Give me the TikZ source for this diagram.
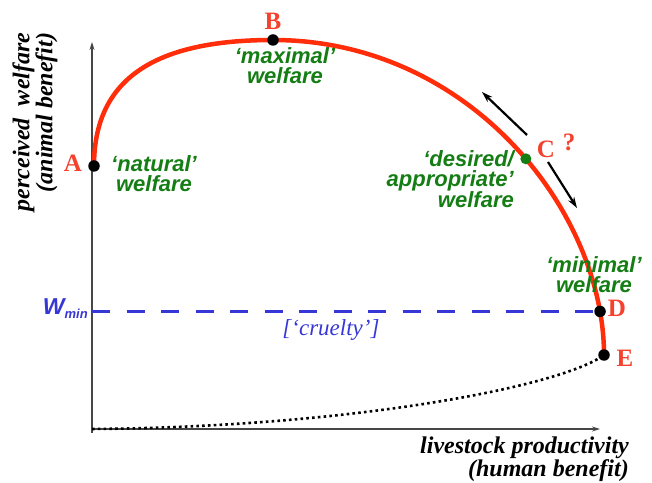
\documentclass[tikz,border=0pt]{standalone}
\usepackage{fontspec}
\setmainfont{Liberation Serif}
\setsansfont{Liberation Sans}
\usetikzlibrary{arrows.meta}

\definecolor{curvered}{RGB}{255,45,10}
\definecolor{letterred}{RGB}{245,65,45}
\definecolor{notegreen}{RGB}{20,125,20}
\definecolor{minblue}{RGB}{55,55,215}
\definecolor{axisgray}{RGB}{70,70,70}

\begin{document}
\begin{tikzpicture}[x=1pt, y=1pt,
        dot/.style={circle, fill, inner sep=0pt, minimum size=11.5pt},
        letter/.style={text=letterred, inner sep=0pt, font=\fontsize{25}{25}\selectfont\bfseries},
        note/.style={text=notegreen, inner sep=0pt, align=center,
            font=\sffamily\bfseries\itshape\fontsize{22}{20}\selectfont},
        axislabel/.style={inner sep=0pt, align=right, font=\bfseries\itshape\fontsize{24}{14}\selectfont},
        axisline/.style={draw=axisgray, line width=1.2pt, -{Stealth[length=8pt, width=5pt]}},
        move/.style={line width=2.2pt, -{Stealth[length=11pt, width=7pt]}}
    ]
    \useasboundingbox (0,0) rectangle (652,482);

    \coordinate (O) at (92,53);
    \coordinate (ytop) at (92,440);
    \coordinate (xend) at (600,53);
    \draw[axisline] ([yshift=-4pt]O) -- (ytop);
    \draw[axisline] (O) -- (xend);

    \coordinate (A) at (94,316);
    \coordinate (B) at (273,442);
    \coordinate (E) at (604,127);

    \draw[line width=2.6pt, dash pattern=on 2.6pt off 3.2pt]
        (O) .. controls (350,55) and (560,95) .. (E);
    \draw[curvered, line width=4.5pt]
        (A) .. controls (94,400) and (150,442) .. (B)
            .. controls (470,442) and (604,270) .. (E)
            coordinate[pos=0.54] (C) coordinate[pos=0.9] (D);
    \coordinate (wend) at (O |- D);
    \draw[minblue, line width=2.6pt, dash pattern=on 18pt off 16.5pt] (wend) -- (D);

    \foreach \p in {A,B,D,E}
        \node[dot] (\p dot) at (\p) {};
    \node[dot, fill=notegreen, minimum size=11pt] (C dot) at (C) {};

    \node[letter] (labA) at (73,319) {A};
    \node[letter] (labB) at (273,461) {B};
    \node[letter] (labC) at (546,333) {C};
    \node[letter] (ques) at (569,340) {?};
    \node[letter] (labD) at (617,174) {D};
    \node[letter] (labE) at (625,124) {E};

    \node[note] (natural) at (154,308) {‘natural’\\welfare};
    \node[note] (maximal) at (285,416) {‘maximal’\\welfare};
    \node[note, align=right, anchor=east] (desired) at (514,303) {‘desired/\\appropriate’\\welfare};
    \node[note] (minimal) at (594,207) {‘minimal’\\welfare};

    \coordinate (up0) at (527,347);
    \coordinate (up1) at (482,390);
    \coordinate (down0) at (548,320);
    \coordinate (down1) at (577,274);
    \draw[move] (up0) -- (up1);
    \draw[move] (down0) -- (down1);

    \node[anchor=east, text=minblue, inner sep=0pt,
        font=\sffamily\bfseries\itshape\fontsize{23}{23}\selectfont]
        (wmin) at ([xshift=-4pt, yshift=3pt]wend) {W\raisebox{-4pt}{\fontsize{13}{13}\selectfont min}};
    \node[text=minblue, inner sep=0pt, font=\itshape\fontsize{23}{23}\selectfont]
        (cruelty) at (331,152) {[‘cruelty’]};

    \node[axislabel, anchor=east] (xlabel) at (629,23) {livestock productivity\\(human benefit)};
    \node[axislabel, rotate=90] (ylabel) at (35,360) {perceived\ \ welfare\\(animal benefit)};
\end{tikzpicture}
\end{document}
